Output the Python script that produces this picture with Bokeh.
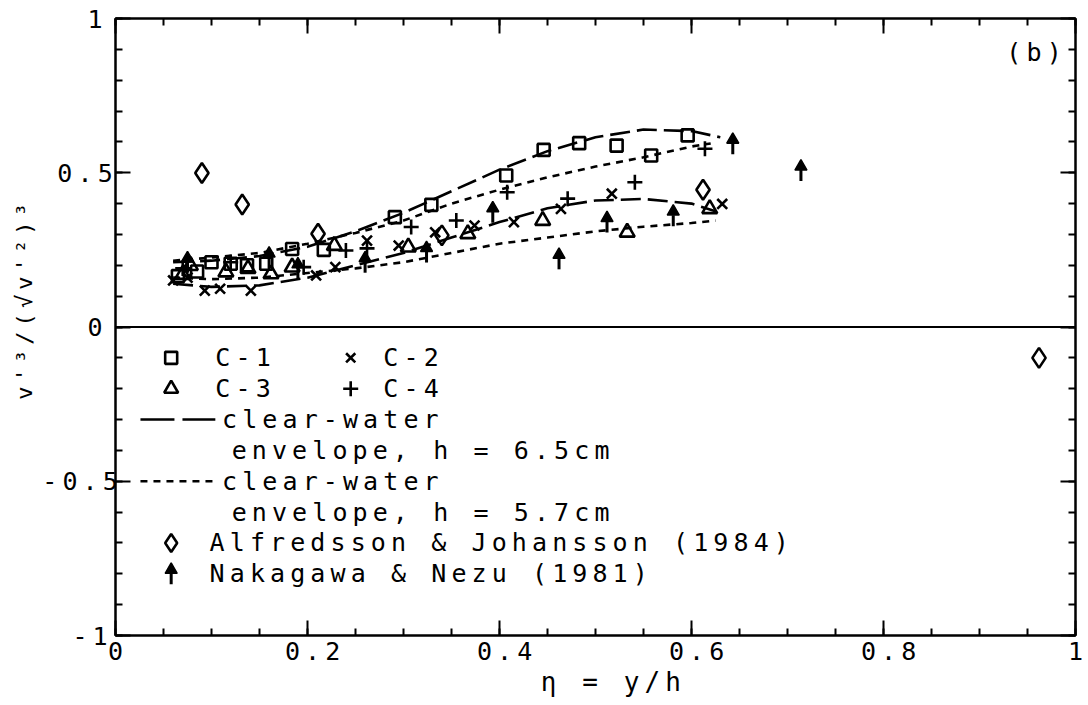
import numpy as np
from bokeh.plotting import figure
from bokeh.models import Span, LinearAxis, FixedTicker, Range1d, InlineStyleSheet
from bokeh.core.properties import value
from bokeh.embed import file_html
from bokeh.resources import INLINE

# ---------------- data ----------------
c1_x = [0.065, 0.085, 0.100, 0.120, 0.137, 0.157, 0.184, 0.217, 0.291, 0.329, 0.407, 0.446, 0.483, 0.522, 0.558, 0.596]
c1_y = [0.165, 0.180, 0.210, 0.205, 0.200, 0.205, 0.253, 0.250, 0.356, 0.396, 0.491, 0.574, 0.596, 0.588, 0.556, 0.621]

c2_x = [0.060, 0.075, 0.093, 0.109, 0.141, 0.209, 0.229, 0.262, 0.295, 0.333, 0.374, 0.415, 0.464, 0.517, 0.632]
c2_y = [0.151, 0.160, 0.118, 0.124, 0.118, 0.167, 0.194, 0.280, 0.264, 0.307, 0.329, 0.340, 0.383, 0.432, 0.399]

c3_x = [0.070, 0.078, 0.115, 0.138, 0.162, 0.184, 0.228, 0.305, 0.367, 0.445, 0.533, 0.619]
c3_y = [0.170, 0.199, 0.178, 0.189, 0.172, 0.194, 0.264, 0.259, 0.302, 0.345, 0.307, 0.383]

c4_x = [0.070, 0.120, 0.196, 0.240, 0.262, 0.308, 0.355, 0.408, 0.471, 0.541, 0.614]
c4_y = [0.190, 0.210, 0.194, 0.248, 0.255, 0.324, 0.345, 0.437, 0.416, 0.469, 0.578]

af_x = [0.090, 0.132, 0.211, 0.340, 0.612, 0.962]
af_y = [0.499, 0.397, 0.302, 0.297, 0.445, -0.100]

nn_x = [0.075, 0.160, 0.190, 0.260, 0.324, 0.393, 0.462, 0.512, 0.581, 0.643, 0.714]
nn_y = [0.210, 0.225, 0.190, 0.210, 0.243, 0.372, 0.221, 0.340, 0.361, 0.594, 0.507]

env65_up_x = [0.06, 0.10, 0.15, 0.20, 0.25, 0.30, 0.35, 0.40, 0.45, 0.50, 0.55, 0.60, 0.63]
env65_up_y = [0.21, 0.215, 0.23, 0.26, 0.31, 0.37, 0.44, 0.51, 0.57, 0.615, 0.64, 0.635, 0.615]
env65_lo_x = [0.06, 0.10, 0.15, 0.20, 0.25, 0.30, 0.35, 0.40, 0.45, 0.50, 0.55, 0.60, 0.625]
env65_lo_y = [0.14, 0.13, 0.135, 0.16, 0.20, 0.24, 0.29, 0.34, 0.385, 0.41, 0.415, 0.40, 0.375]
env57_up_x = [0.06, 0.10, 0.15, 0.20, 0.25, 0.30, 0.35, 0.40, 0.45, 0.50, 0.55, 0.60, 0.62]
env57_up_y = [0.215, 0.225, 0.24, 0.27, 0.305, 0.345, 0.40, 0.445, 0.485, 0.52, 0.55, 0.585, 0.595]
env57_lo_x = [0.06, 0.10, 0.15, 0.20, 0.25, 0.30, 0.35, 0.40, 0.45, 0.50, 0.55, 0.60, 0.625]
env57_lo_y = [0.16, 0.155, 0.16, 0.175, 0.19, 0.21, 0.24, 0.27, 0.29, 0.31, 0.325, 0.337, 0.345]

x_ticks = [0, 0.2, 0.4, 0.6, 0.8, 1]
x_tick_labels = ["0", "0.2", "0.4", "0.6", "0.8", "1"]
y_ticks = [-1, -0.5, 0, 0.5, 1]
y_tick_labels = ["-1", "-0.5", "0", "0.5", "1"]

legend_labels = ["C-1", "C-2", "C-3", "C-4",
                 "clear-water", "envelope, h = 6.5cm",
                 "clear-water", "envelope, h = 5.7cm",
                 "Alfredsson & Johansson (1984)", "Nakagawa & Nezu (1981)"]

# ---------------- styling ----------------
FONT = "DejaVu Sans Mono"
FS = "25px"
LW = 2.6
SPACING_CSS = ":host { letter-spacing: 5.1px; } text { letter-spacing: 5.1px; }"

p = figure(width=1088, height=705, x_range=Range1d(0, 1), y_range=Range1d(-1, 1),
           output_backend="svg", toolbar_location=None,
           min_border_left=115, min_border_right=13, min_border_top=18, min_border_bottom=70)
p.stylesheets = [InlineStyleSheet(css=SPACING_CSS)]
p.xgrid.visible = False
p.ygrid.visible = False
p.outline_line_color = "black"
p.outline_line_width = 2
p.background_fill_color = "white"
p.border_fill_color = "white"

x_minor = [i * 0.05 for i in range(21)]
y_minor = [-1 + i * 0.1 for i in range(21)]

def style_axis(ax, labels=True):
    ax.major_tick_in = 15
    ax.major_tick_out = 0
    ax.minor_tick_in = 7
    ax.minor_tick_out = 0
    ax.major_tick_line_width = 2
    ax.minor_tick_line_width = 2
    ax.axis_line_width = 2
    ax.major_tick_line_color = "black"
    ax.minor_tick_line_color = "black"
    if labels:
        ax.major_label_text_font = FONT
        ax.major_label_text_font_size = FS
        ax.major_label_text_color = "black"
    else:
        ax.major_label_text_color = None
        ax.major_label_text_font_size = "1px"
        ax.major_label_standoff = 0

xa = p.xaxis[0]
xa.ticker = FixedTicker(ticks=x_ticks, minor_ticks=x_minor)
xa.major_label_overrides = dict(zip(x_ticks, x_tick_labels))
style_axis(xa)
xa.major_label_standoff = 6
xa.axis_label = "η = y/h"
xa.axis_label_text_font = FONT
xa.axis_label_text_font_size = "26px"
xa.axis_label_text_font_style = "normal"
xa.axis_label_text_color = "black"
xa.axis_label_standoff = 4

ya = p.yaxis[0]
ya.ticker = FixedTicker(ticks=y_ticks, minor_ticks=y_minor)
ya.major_label_overrides = dict(zip(y_ticks, y_tick_labels))
style_axis(ya)
ya.major_label_standoff = 13
ya.axis_label = "v'³/(√v'²)³"
ya.axis_label_text_font = FONT
ya.axis_label_text_font_size = "22px"
ya.axis_label_text_font_style = "normal"
ya.axis_label_text_color = "black"
ya.axis_label_standoff = 2

top = LinearAxis(ticker=FixedTicker(ticks=x_ticks, minor_ticks=x_minor))
style_axis(top, labels=False)
p.add_layout(top, "above")
right = LinearAxis(ticker=FixedTicker(ticks=y_ticks, minor_ticks=y_minor))
style_axis(right, labels=False)
p.add_layout(right, "right")

p.add_layout(Span(location=0, dimension="width", line_color="black", line_width=2))

# envelopes
p.line(env65_up_x, env65_up_y, line_color="black", line_width=LW, line_dash="20 7")
p.line(env65_lo_x, env65_lo_y, line_color="black", line_width=LW, line_dash="20 7")
p.line(env57_up_x, env57_up_y, line_color="black", line_width=LW, line_dash="7 6")
p.line(env57_lo_x, env57_lo_y, line_color="black", line_width=LW, line_dash="7 6")

mk = dict(line_color="black", line_width=LW, fill_color=None)
p.scatter(c1_x, c1_y, marker="square", size=12, **mk)
p.scatter(c2_x, c2_y, marker="x", size=14, **mk)
p.scatter(c3_x, c3_y, marker="triangle", size=15, **mk)
p.scatter(c4_x, c4_y, marker="cross", size=15, **mk)
p.scatter(af_x, af_y, marker="diamond", size=20, **mk)

PX = 2.0 / 617.0  # one pixel in y data units

def arrows(xs, ys):
    ys = np.asarray(ys, dtype=float)
    p.scatter(xs, ys + 4 * PX, marker="triangle", size=12, line_color="black",
              fill_color="black", line_width=1.5)
    p.scatter(xs, ys - 5 * PX, marker="dash", angle=np.pi / 2, size=11,
              line_color="black", line_width=3)

arrows(nn_x, nn_y)

# ---------------- in-plot legend ----------------
mx = 0.058
tx = 0.098
p.scatter([mx], [-0.1], marker="square", size=12, **mk)
p.scatter([0.245], [-0.1], marker="x", size=13, **mk)
p.scatter([mx], [-0.2], marker="triangle", size=14, **mk)
p.scatter([0.245], [-0.2], marker="cross", size=15, **mk)
p.line([0.026, 0.104], [-0.3, -0.3], line_color="black", line_width=LW, line_dash="34 8")
p.line([0.026, 0.104], [-0.5, -0.5], line_color="black", line_width=LW, line_dash="7 6")
p.scatter([mx], [-0.7], marker="diamond", size=18, **mk)
arrows([mx], [-0.8])

lx = [0.104, 0.279, 0.104, 0.279, 0.111, 0.121, 0.111, 0.121, tx, tx]
ly = [-0.1, -0.1, -0.2, -0.2, -0.3, -0.4, -0.5, -0.6, -0.7, -0.8]
p.text(x=lx, y=ly, text=legend_labels, text_font=value(FONT), text_font_size=FS,
       text_baseline="middle", text_align="left", text_color="black")

p.text(x=[0.975], y=[0.89], text=["(b)"], text_font=value(FONT), text_font_size=FS,
       text_baseline="middle", text_align="right", text_color="black")

open("out.html", "w").write(file_html(p, INLINE))
